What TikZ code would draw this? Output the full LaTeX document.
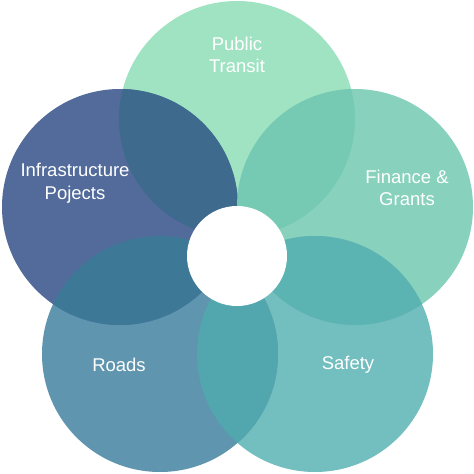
\documentclass[tikz,border=0pt]{standalone}
\usepackage{fontspec}
\setmainfont{Liberation Sans}
\definecolor{ctransit}{HTML}{A0E3C2}
\definecolor{cfinance}{HTML}{88D2BD}
\definecolor{csafety}{HTML}{73BEBE}
\definecolor{croads}{HTML}{5F95AE}
\definecolor{cinfra}{HTML}{526B9A}
\definecolor{cit}{HTML}{3E6A8E}
\definecolor{ctf}{HTML}{76CAB4}
\definecolor{cfs}{HTML}{5BB3B2}
\definecolor{csr}{HTML}{52A7AF}
\definecolor{cri}{HTML}{3D7997}
\tikzset{
  lab/.style={text=white, align=center, font=\fontsize{18.5}{22.5}\selectfont, inner sep=0pt},
}
\begin{document}
\begin{tikzpicture}[x=1pt,y=-1pt]
\useasboundingbox (0,0) rectangle (474,474);
\def\R{118}
\coordinate (cT) at (237,119);
\coordinate (cI) at (120,207);
\coordinate (cF) at (355,207);
\coordinate (cR) at (160,354);
\coordinate (cS) at (315,354);
\coordinate (cC) at (237,256);
% base circles
\fill[ctransit] (cT) circle[radius=\R];
\fill[cfinance] (cF) circle[radius=\R];
\fill[csafety] (cS) circle[radius=\R];
\fill[croads] (cR) circle[radius=\R];
\fill[cinfra] (cI) circle[radius=\R];
% overlaps
\begin{scope}\clip (cI) circle[radius=\R]; \fill[cit] (cT) circle[radius=\R];\end{scope}
\begin{scope}\clip (cT) circle[radius=\R]; \fill[ctf] (cF) circle[radius=\R];\end{scope}
\begin{scope}\clip (cF) circle[radius=\R]; \fill[cfs] (cS) circle[radius=\R];\end{scope}
\begin{scope}\clip (cS) circle[radius=\R]; \fill[csr] (cR) circle[radius=\R];\end{scope}
\begin{scope}\clip (cR) circle[radius=\R]; \fill[cri] (cI) circle[radius=\R];\end{scope}
% centre
\fill[white] (cC) circle[radius=50];
% labels
\node[lab] (tT) at (237,55) {Public\\Transit};
\node[lab] (tI) at (75,183) {Infrastructure\\Pojects};
\node[lab] (tF) at (407,188) {Finance \&\\Grants};
\node[lab] (tR) at (119,365) {Roads};
\node[lab] (tS) at (348,365) {Safety};
\end{tikzpicture}
\end{document}
